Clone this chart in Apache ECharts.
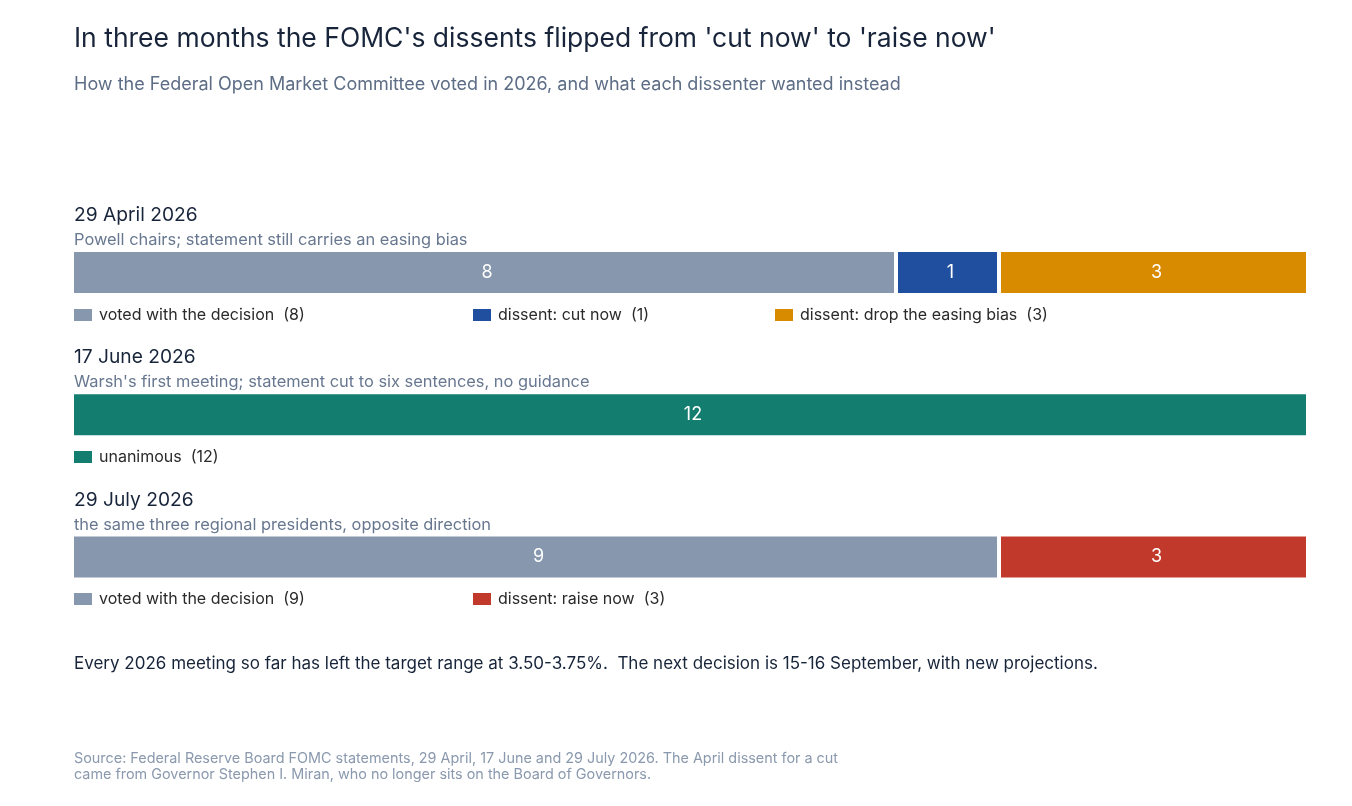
<!DOCTYPE html>
<html lang="en">
<head>
<meta charset="UTF-8">
<title>FOMC dissents 2026</title>
<script src="https://cdn.jsdelivr.net/npm/echarts@6/dist/echarts.min.js"></script>
<style>
  html, body { margin: 0; padding: 0; background: #ffffff; }
  #main { width: 1352px; height: 806px; }
</style>
</head>
<body>
<div id="main"></div>
<script>
  // meetings, top to bottom
  var meetings = ['29 April 2026', '17 June 2026', '29 July 2026'];
  var notes = [
    'Powell chairs; statement still carries an easing bias',
    "Warsh's first meeting; statement cut to six sentences, no guidance",
    'the same three regional presidents, opposite direction'
  ];

  // votes per meeting (null = not present at that meeting)
  var withDecision = [8, null, 9];
  var cutNow = [1, null, null];
  var dropBias = [3, null, null];
  var unanimous = [null, 12, null];
  var raiseNow = [null, null, 3];

  var FONT = 'Inter, "Liberation Sans", Arial, sans-serif';
  var colors = {
    gray: '#8797ad',
    blue: '#1f4f9e',
    orange: '#d98b00',
    teal: '#137d70',
    red: '#c0392b'
  };

  function seg(name, data, color) {
    return {
      name: name,
      type: 'bar',
      stack: 'votes',
      barWidth: 45,
      data: data,
      itemStyle: { color: color, borderColor: '#ffffff', borderWidth: 2 },
      label: {
        show: true,
        position: 'inside',
        offset: [3, 0],
        color: '#ffffff',
        fontFamily: FONT,
        fontSize: 18,
        formatter: '{c}'
      },
      emphasis: { disabled: true }
    };
  }

  // one legend per item so each row gets its own count
  function leg(name, count, left, top) {
    return {
      data: [name],
      left: left,
      top: top,
      padding: 0,
      icon: 'rect',
      itemWidth: 18,
      itemHeight: 12,
      itemGap: 0,
      selectedMode: false,
      itemStyle: { borderWidth: 0 },
      textStyle: { fontFamily: FONT, fontSize: 16, color: '#2a2a2a', lineHeight: 18, padding: [0, 0, 0, 2] },
      formatter: function (n) { return n + '  (' + count + ')'; }
    };
  }

  function txt(x, y, s, size, fill) {
    return {
      type: 'text', x: x, y: y, silent: true,
      style: { text: s, fontFamily: FONT, fontSize: size, fill: fill, textVerticalAlign: 'middle' }
    };
  }

  var rowY = [0, 142.5, 285];
  var graphics = [
    txt(74, 39, "In three months the FOMC's dissents flipped from 'cut now' to 'raise now'", 26.5, '#17243a'),
    txt(74, 85, 'How the Federal Open Market Committee voted in 2026, and what each dissenter wanted instead', 18, '#5d6d85'),
    txt(74, 664, 'Every 2026 meeting so far has left the target range at 3.50-3.75%.  The next decision is 15-16 September, with new projections.', 17, '#17243a'),
    txt(74, 759, 'Source: Federal Reserve Board FOMC statements, 29 April, 17 June and 29 July 2026. The April dissent for a cut', 14.4, '#8a99ae'),
    txt(74, 775, 'came from Governor Stephen I. Miran, who no longer sits on the Board of Governors.', 14.4, '#8a99ae')
  ];
  meetings.forEach(function (m, i) {
    graphics.push(txt(74, 215 + rowY[i], m, 19.2, '#17243a'));
    graphics.push(txt(74, 240 + rowY[i], notes[i], 16.4, '#67778f'));
  });

  var chart = echarts.init(document.getElementById('main'));
  chart.setOption({
    animation: false,
    backgroundColor: '#ffffff',
    grid: { left: 72, right: 44, top: 201.5, height: 426.5, containLabel: false },
    xAxis: { type: 'value', min: 0, max: 12, show: false },
    yAxis: { type: 'category', data: meetings, inverse: true, show: false },
    legend: [
      leg('voted with the decision', withDecision[0], 74, 306),
      leg('dissent: cut now', cutNow[0], 473, 306),
      leg('dissent: drop the easing bias', dropBias[0], 775, 306),
      leg('unanimous', unanimous[1], 74, 448),
      leg('voted with the decision', withDecision[2], 74, 590),
      leg('dissent: raise now', raiseNow[2], 473, 590)
    ],
    series: [
      seg('voted with the decision', withDecision, colors.gray),
      seg('dissent: cut now', cutNow, colors.blue),
      seg('dissent: drop the easing bias', dropBias, colors.orange),
      seg('unanimous', unanimous, colors.teal),
      seg('dissent: raise now', raiseNow, colors.red)
    ],
    graphic: graphics
  });
</script>
</body>
</html>
